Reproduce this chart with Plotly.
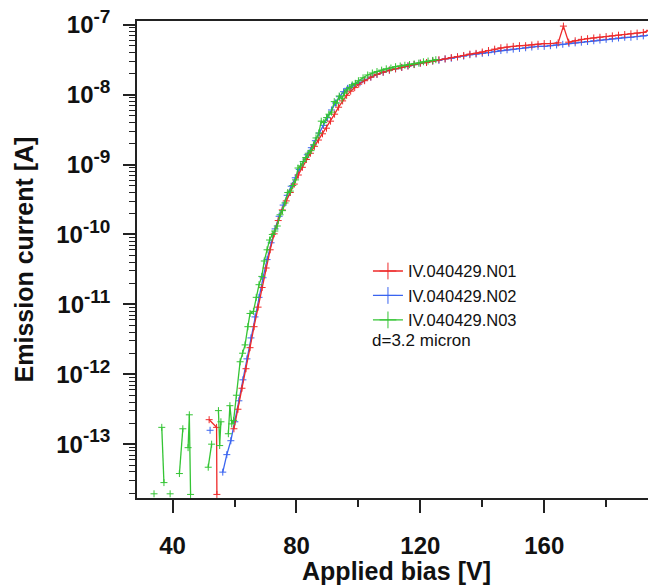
import plotly.graph_objects as go

# applied bias [V] and emission current [A]
# None separates pieces that were not joined in the original trace
n01_bias = [51.8, 54.2, 54.3, None,
            59.8, 61.1, 62.4, 63.7, 65.0, 66.3, 67.6, 68.9, 70.2, 71.5, 72.8, 74.1,
            75.4, 76.7, 78.0, 79.3, 80.6, 81.9, 83.2, 84.5, 85.8, 87.1, 88.4, 89.7,
            91.0, 92.3, 93.6, 94.9, 96.2, 97.5, 98.8, 100.1, 102, 104, 106, 108, 110,
            112, 114, 116, 118, 120, 122, 124, 126, 128, 130, 132, 134, 136, 138, 140,
            142, 144, 146, 148, 150, 152, 154, 156, 158, 160, 162, 164.5, 166.2, 167.9,
            170, 172, 174, 176, 178, 180, 182, 184, 186, 188, 190, 192, 194, 196]
n01_current = [2.24e-13, 1.74e-13, 1.91e-14, None,
               1.66e-13, 3.16e-13, 6.31e-13, 1.20e-12, 2.40e-12, 4.79e-12, 9.12e-12,
               1.74e-11, 3.31e-11, 6.03e-11, 1.02e-10, 1.58e-10, 2.24e-10, 3.02e-10,
               3.98e-10, 5.25e-10, 7.08e-10, 9.12e-10, 1.18e-9, 1.45e-9, 1.82e-9,
               2.24e-9, 2.75e-9, 3.31e-9, 4.17e-9, 5.25e-9, 6.61e-9, 8.13e-9, 9.77e-9,
               1.12e-8, 1.26e-8, 1.41e-8, 1.58e-8, 1.78e-8, 1.95e-8, 2.09e-8, 2.24e-8,
               2.34e-8, 2.45e-8, 2.57e-8, 2.69e-8, 2.82e-8, 2.88e-8, 3.02e-8, 3.16e-8,
               3.24e-8, 3.39e-8, 3.47e-8, 3.63e-8, 3.80e-8, 3.89e-8, 4.07e-8, 4.27e-8,
               4.47e-8, 4.68e-8, 4.79e-8, 4.90e-8, 5.01e-8, 5.01e-8, 5.13e-8, 5.25e-8,
               5.37e-8, 5.37e-8, 5.50e-8, 9.55e-8, 5.62e-8, 5.89e-8, 6.17e-8, 6.31e-8,
               6.46e-8, 6.61e-8, 6.76e-8, 6.92e-8, 7.08e-8, 7.24e-8, 7.41e-8, 7.59e-8,
               7.76e-8, 8.32e-8, 1.00e-7]

n02_bias = [52.1, None,
            56.2, 57.5, 58.8, 60.1, 61.4, 62.7, 64.0, 65.3, 66.6, 67.9, 69.2, 70.5,
            71.8, 73.1, 74.4, 75.7, 77.0, 78.3, 79.6, 80.9, 82.2, 83.5, 84.8, 86.1,
            87.4, 88.7, 90.0, 91.3, 92.6, 93.9, 95.2, 96.5, 97.8, 99.1, 100.5, 102, 104,
            106, 108, 110, 112, 114, 116, 118, 120, 122, 124, 126, 128, 130, 132, 134,
            136, 138, 140, 142, 144, 146, 148, 150, 152, 154, 156, 158, 160, 162, 164,
            166, 168, 170, 172, 174, 176, 178, 180, 182, 184, 186, 188, 190, 192, 194, 196]
n02_current = [1.58e-13, None,
               3.98e-14, 7.08e-14, 1.12e-13, 2.09e-13, 4.17e-13, 8.32e-13, 1.66e-12,
               3.31e-12, 6.61e-12, 1.26e-11, 2.40e-11, 4.37e-11, 7.59e-11, 1.20e-10,
               1.82e-10, 2.63e-10, 3.63e-10, 4.90e-10, 6.46e-10, 8.51e-10, 1.10e-9,
               1.38e-9, 1.74e-9, 2.19e-9, 2.82e-9, 3.63e-9, 4.68e-9, 6.03e-9, 7.59e-9,
               9.33e-9, 1.10e-8, 1.23e-8, 1.32e-8, 1.41e-8, 1.48e-8, 1.62e-8, 1.78e-8,
               1.95e-8, 2.09e-8, 2.24e-8, 2.34e-8, 2.45e-8, 2.57e-8, 2.69e-8, 2.82e-8,
               2.88e-8, 3.02e-8, 3.09e-8, 3.24e-8, 3.31e-8, 3.47e-8, 3.55e-8, 3.72e-8,
               3.80e-8, 3.89e-8, 3.98e-8, 4.17e-8, 4.27e-8, 4.37e-8, 4.47e-8, 4.57e-8,
               4.68e-8, 4.79e-8, 4.90e-8, 4.90e-8, 5.01e-8, 5.13e-8, 5.25e-8, 5.37e-8,
               5.50e-8, 5.62e-8, 5.75e-8, 5.89e-8, 6.03e-8, 6.17e-8, 6.31e-8, 6.46e-8,
               6.61e-8, 6.61e-8, 6.76e-8, 6.92e-8, 7.08e-8, 7.08e-8]

n03_bias = [34.0, None, 36.5, 37.2, None, 39.2, None, 42.2, 43.3, None,
            45.0, 45.4, 45.8, None, 51.5, 52.6, None, 54.8, 55.2, 55.6, None,
            58.0, 58.5, 59.1, 59.7, 60.6, 61.8, 62.6, 63.4, 64.3, 65.0, 66.1, 67.0,
            67.9, 68.8, 69.6, 70.5, 71.3, 72.2, 73.0, 73.8, 74.7, 75.5, 76.3, 77.2,
            78.0, 78.8, 79.7, 80.5, 81.3, 82.2, 83.0, 83.8, 84.7, 85.5, 86.3, 87.2,
            88.0, 88.8, 89.7, 90.5, 91.3, 92.2, 93.0, 93.8, 94.7, 95.5, 96.3, 97.2,
            98.0, 99.0, 100.0, 101.5, 103.0, 104.5, 106.0, 107.5, 109.0, 110.5, 112.0,
            113.5, 115.0, 116.5, 118.0, 119.5, 121.0, 122.5, 124.0, 125.0]
n03_current = [1.95e-14, None, 1.74e-13, 2.82e-14, None, 1.95e-14, None, 3.80e-14, 1.66e-13, None,
               8.91e-14, 2.63e-13, 1.91e-14, None, 4.68e-14, 1.00e-13, None,
               3.02e-13, 9.55e-14, 2.09e-13, None,
               1.41e-13, 3.55e-13, 1.95e-13, 2.19e-13, 5.01e-13, 1.51e-12, 2.00e-12,
               2.63e-12, 4.79e-12, 7.41e-12, 7.94e-12, 1.26e-11, 1.91e-11, 2.51e-11,
               4.17e-11, 6.03e-11, 8.32e-11, 1.00e-10, 1.12e-10, 1.32e-10, 1.91e-10,
               2.19e-10, 2.82e-10, 3.98e-10, 4.17e-10, 5.01e-10, 6.03e-10, 8.91e-10,
               9.55e-10, 1.10e-9, 1.26e-9, 1.45e-9, 1.58e-9, 1.91e-9, 2.40e-9, 2.82e-9,
               4.17e-9, 3.98e-9, 4.68e-9, 5.25e-9, 5.62e-9, 7.94e-9, 7.59e-9, 9.55e-9,
               8.71e-9, 1.05e-8, 1.17e-8, 1.26e-8, 1.38e-8, 1.45e-8, 1.58e-8, 1.74e-8,
               1.91e-8, 2.04e-8, 2.14e-8, 2.24e-8, 2.34e-8, 2.40e-8, 2.51e-8, 2.57e-8,
               2.63e-8, 2.69e-8, 2.75e-8, 2.82e-8, 2.95e-8, 3.02e-8, 3.09e-8, 3.16e-8]

names = ["IV.040429.N01", "IV.040429.N02", "IV.040429.N03"]
colors = ["#ee2a2a", "#3a64f0", "#34c434"]

x_ticks = [40, 80, 120, 160]
y_ticks = [1e-13, 1e-12, 1e-11, 1e-10, 1e-9, 1e-8, 1e-7]
y_ticktext = ["10<sup><span style='font-size:19px'>-%d</span></sup>" % n
              for n in [13, 12, 11, 10, 9, 8, 7]]
# minor ticks: 2..9 in every decade
y_minor = [m * 10.0 ** e for e in range(-14, -6) for m in range(2, 10)]

fig = go.Figure()

# blue first, then red, then green (drawing order as in the original)
for i, (xs, ys) in [(1, (n02_bias, n02_current)),
                    (0, (n01_bias, n01_current)),
                    (2, (n03_bias, n03_current))]:
    fig.add_trace(go.Scatter(
        x=xs, y=ys, mode="lines+markers", showlegend=False,
        line=dict(color=colors[i], width=1.3),
        marker=dict(symbol="cross-thin", size=5, line=dict(color=colors[i], width=1)),
    ))

# legend entries with bigger crosses
for i in range(3):
    fig.add_trace(go.Scatter(
        x=[None], y=[None], mode="lines+markers", name=names[i],
        line=dict(color=colors[i], width=1.3),
        marker=dict(symbol="cross-thin", size=12, line=dict(color=colors[i], width=1)),
    ))

fig.add_annotation(x=0.449, y=0.331, xref="paper", yref="paper", text="d=3.2 micron",
                   showarrow=False, xanchor="left", yanchor="middle",
                   font=dict(size=17, color="#111"))

axis_font = dict(family="Liberation Sans, Arial", size=24, color="#111", weight="bold")
title_font = dict(family="Liberation Sans, Arial", size=25, color="#111", weight="bold")

# the page body has an 8px margin, so the figure is 8px smaller than the window
fig.update_layout(
    width=648, height=577,
    margin=dict(l=129, r=0, t=13, b=87),
    plot_bgcolor="white", paper_bgcolor="white",
    font=dict(family="Liberation Sans, Arial", color="#111"),
    legend=dict(x=0.445, y=0.512, xanchor="left", yanchor="top",
                bgcolor="rgba(0,0,0,0)", font=dict(size=16.5, color="#111"),
                itemwidth=30),
    xaxis=dict(
        range=[28.5, 196.1], tickmode="array", tickvals=x_ticks,
        showgrid=False, zeroline=False, automargin=False,
        showline=True, linecolor="#222", linewidth=1.5, mirror=True,
        ticks="outside", ticklen=13, tickwidth=1.5, tickcolor="#222",
        minor=dict(dtick=20, tick0=0, ticks="outside", ticklen=7, tickwidth=1.5,
                   tickcolor="#222", showgrid=False),
        tickfont=axis_font, ticklabelstandoff=12,
        title=dict(text="Applied bias [V]", font=title_font, standoff=8),
    ),
    yaxis=dict(
        type="log", range=[-13.77, -6.947], tickmode="array",
        tickvals=y_ticks, ticktext=y_ticktext, ticklabeloverflow="allow",
        showgrid=False, zeroline=False, automargin=False,
        showline=True, linecolor="#222", linewidth=1.5,
        ticks="outside", ticklen=12, tickwidth=1.5, tickcolor="#222",
        minor=dict(tickmode="array", tickvals=y_minor, ticks="outside", ticklen=6,
                   tickwidth=1.2, tickcolor="#222", showgrid=False),
        tickfont=axis_font, ticklabelstandoff=8,
        title=dict(text="Emission current [A]", font=title_font, standoff=16),
    ),
)

fig.write_html("out.html")
